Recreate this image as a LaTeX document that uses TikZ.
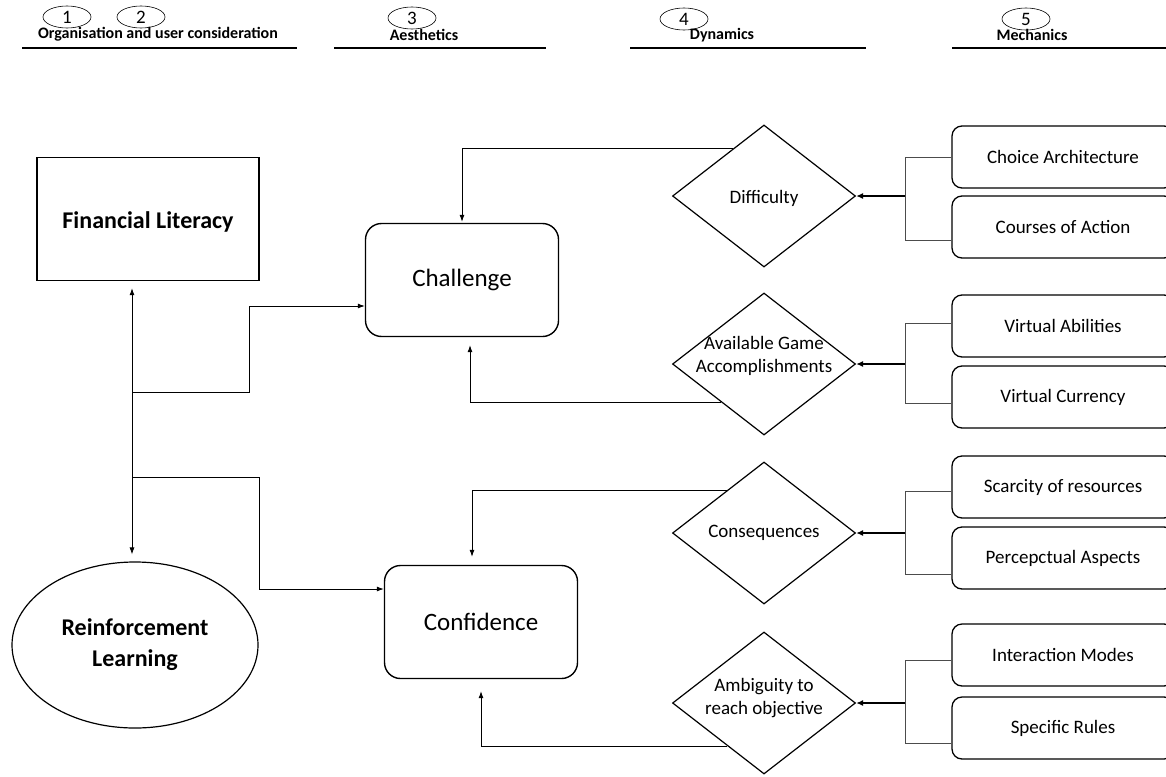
\documentclass[tikz,border=0pt]{standalone}
\usepackage{fontspec}
\setmainfont{Carlito}
\usetikzlibrary{shapes.geometric,arrows.meta,calc}
\begin{document}
\begin{tikzpicture}[x=1pt,y=-1pt,
  num/.style={ellipse, draw, line width=0.6pt, minimum width=48pt, minimum height=22pt, inner sep=0pt, font=\fontsize{19}{20}\selectfont},
  hdr/.style={font=\fontsize{16}{18}\selectfont\bfseries},
  hrule/.style={line width=1.6pt},
  sqbox/.style={draw, line width=1.4pt, minimum width=222pt, minimum height=123pt, inner sep=0pt},
  ellbox/.style={ellipse, draw, line width=1.2pt, minimum width=246pt, minimum height=166pt, inner sep=0pt, align=center, font=\fontsize{24}{31}\selectfont\bfseries},
  rbox/.style={draw, rounded corners=16pt, line width=1.4pt, minimum width=193pt, minimum height=113pt, inner sep=0pt, font=\fontsize{25}{28}\selectfont},
  dia/.style={diamond, draw, line width=1.2pt, minimum width=183pt, minimum height=142pt, inner sep=0pt},
  dtext/.style={align=center, font=\fontsize{19}{23}\selectfont, inner sep=0pt},
  mbox/.style={draw, rounded corners=10pt, line width=1.3pt, minimum width=222pt, minimum height=62pt, inner sep=0pt, font=\fontsize{19}{22}\selectfont},
  conn/.style={line width=0.8pt, -{Latex[length=7pt,width=5pt]}},
  bconn/.style={line width=0.8pt, {Latex[length=7pt,width=5pt]}-{Latex[length=7pt,width=5pt]}},
  brk/.style={line width=0.8pt, draw=black!70},
  feed/.style={line width=1.4pt, -{Latex[length=7pt,width=6pt]}}
]
\useasboundingbox (0,0) rectangle (1166,776);
\clip (0,0) rectangle (1166,776);

% header
\node[num] (n1) at (67,17) {1};
\node[num] (n2) at (141,17) {2};
\node[num] (n3) at (412,18) {3};
\node[num] (n4) at (684,19) {4};
\node[num] (n5) at (1026,19) {5};
\node[hdr] (h1) at (158,34) {Organisation and user consideration};
\node[hdr] (h2) at (424,35) {Aesthetics};
\node[hdr] (h3) at (722,35) {Dynamics};
\node[hdr] (h4) at (1032,35) {Mechanics};
\draw[hrule] (22,48) -- (297,48);
\draw[hrule] (334,48) -- (546,48);
\draw[hrule] (630,48) -- (866,48);
\draw[hrule] (952,48) -- (1166,48);

% left column
\node[sqbox] (fl) at (148,219) {};
\node[font=\fontsize{24}{28}\selectfont\bfseries] (flt) at (148,222) {Financial Literacy};
\node[ellbox] (rl) at (135,645) {Reinforcement\\Learning};

% aesthetics
\node[rbox] (ch) at (462,280) {Challenge};
\node[rbox] (cf) at (481,622) {Confidence};

% dynamics
\node[dia] (d1) at (764,196) {};
\node[dtext] at ([yshift=-2pt]d1.center) {Difficulty};
\node[dia] (d2) at (764,364) {};
\node[dtext] at ([yshift=8pt]d2.center) {Available Game\\Accomplishments};
\node[dia] (d3) at (764,533) {};
\node[dtext] at (d3) {Consequences};
\node[dia] (d4) at (764,703) {};
\node[dtext] at ([yshift=5pt]d4.center) {Ambiguity to\\reach objective};

% mechanics
\node[mbox] (m1) at (1063,157) {Choice Architecture};
\node[mbox] (m2) at (1063,227) {Courses of Action};
\node[mbox] (m3) at (1063,326) {Virtual Abilities};
\node[mbox] (m4) at (1063,397) {Virtual Currency};
\node[mbox] (m5) at (1063,487) {Scarcity of resources};
\node[mbox] (m6) at (1063,558) {Percepctual Aspects};
\node[mbox] (m7) at (1063,655) {Interaction Modes};
\node[mbox] (m8) at (1063,728) {Specific Rules};

% left connectors
\coordinate (b1) at (132,392);
\coordinate (b2) at (132,477);
\draw[bconn, shorten <=7pt, shorten >=7pt] (fl.south -| b1) -- (rl.north -| b1);
\draw[conn] (b1) -- (249,392) |- ([yshift=-26pt]ch.west);
\draw[conn] (b2) -- (259,477) |- ([yshift=33pt]cf.west);

% dynamics -> aesthetics
\draw[conn, shorten >=1pt] ($(d1.west)!0.66!(d1.north)$) -| (ch.north);
\draw[conn, shorten >=8pt] ($(d2.west)!0.53!(d2.south)$) -| ([xshift=8pt]ch.south);
\draw[conn, shorten >=8pt] ($(d3.west)!0.6!(d3.north)$) -| ([xshift=-9pt]cf.north);
\draw[conn, shorten >=12pt] ($(d4.west)!0.6!(d4.south)$) -| (cf.south);

% mechanics -> dynamics
\coordinate (j1) at ([xshift=49pt]d1.east);
\coordinate (j2) at ([xshift=49pt]d2.east);
\coordinate (j3) at ([xshift=49pt]d3.east);
\coordinate (j4) at ([xshift=49pt]d4.east);
\draw[brk] (m1.west) -| (j1) |- ([yshift=-13pt]m2.west);
\draw[brk] ([yshift=3pt]m3.west) -| (j2) |- ([yshift=-6pt]m4.west);
\draw[brk] ([yshift=-4pt]m5.west) -| (j3) |- ([yshift=-16pt]m6.west);
\draw[brk] ([yshift=-5pt]m7.west) -| (j4) |- ([yshift=-15pt]m8.west);
\draw[feed] (j1) -- (d1.east);
\draw[feed] (j2) -- (d2.east);
\draw[feed] (j3) -- (d3.east);
\draw[feed] (j4) -- (d4.east);
\end{tikzpicture}
\end{document}
